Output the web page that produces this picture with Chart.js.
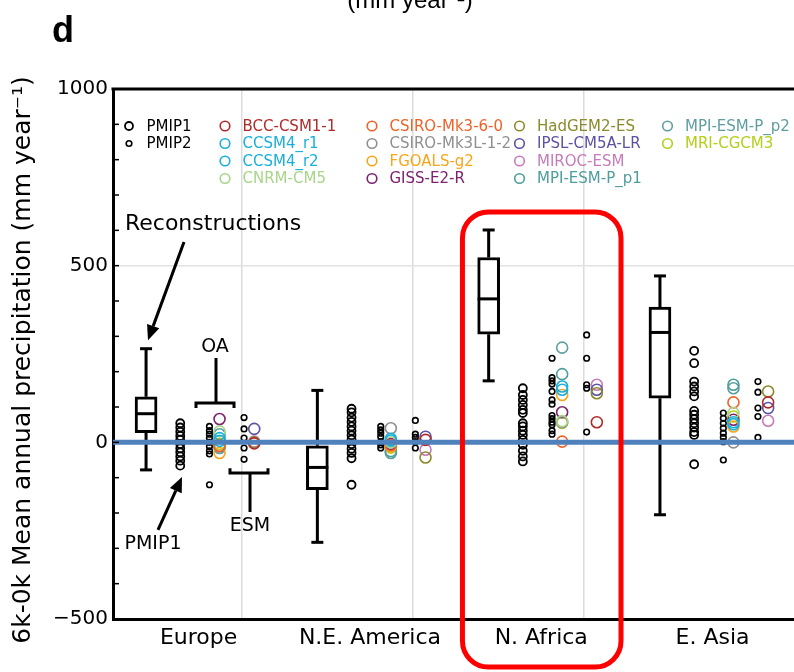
<!DOCTYPE html>
<html>
<head>
<meta charset="utf-8">
<script src="https://cdn.jsdelivr.net/npm/chart.js@4.4.1/dist/chart.umd.min.js"></script>
<style>
  html, body { margin: 0; padding: 0; background: #fff; overflow: hidden; }
  canvas { display: block; }
</style>
</head>
<body>
<canvas id="chart" width="794" height="672"></canvas>
<script>
const regions = ['Europe', 'N.E. America', 'N. Africa', 'E. Asia'];
const yLabelTicks = [-500, 0, 500, 1000];

// reconstructions (box plot): whisker min, q1, median, q3, whisker max
const reconMin = [-78, -283, 174, -205];
const reconQ1  = [27, -134, 306, 125];
const reconMed = [81, -71, 406, 311];
const reconQ3  = [129, -10, 523, 383];
const reconMax = [265, 147, 601, 471];

// PMIP1 models, one list per region
const pmip1 = [
  [54, 42, 30, 18, 7, -5, -17, -28, -40, -52, -66],
  [95, 85, 70, 58, 45, 33, 20, 8, -5, -18, -30, -45, -120],
  [153, 134, 120, 106, 92, 83, 54, 45, 33, 21, 7, -7, -24, -40, -54],
  [259, 224, 172, 158, 144, 130, 89, 78, 66, 54, 42, 29, 21, -62]
];
// PMIP2 ocean-atmosphere models
const pmip2OA = [
  [45, 33, 23, 12, 0, -12, -24, -33, -120],
  [45, 35, 26, 16, 2, -7, -16],
  [238, 183, 174, 165, 144, 120, 108, 76, 67, 57, 50, 33, 23],
  [83, 68, 54, 40, 26, 14, 2, -50]
];
// PMIP2 earth system models
const pmip2ESM = [
  [70, 38, 12, -16, -48],
  [62, 23, 14, 2, -16],
  [304, 238, 163, 153, 29],
  [172, 142, 97, 73, 14]
];

// PMIP3 / CMIP5 models
const modelNames = ['BCC-CSM1-1', 'CCSM4_r1', 'CCSM4_r2', 'CNRM-CM5',
  'CSIRO-Mk3-6-0', 'CSIRO-Mk3L-1-2', 'FGOALS-g2', 'GISS-E2-R',
  'HadGEM2-ES', 'IPSL-CM5A-LR', 'MIROC-ESM', 'MPI-ESM-P_p1',
  'MPI-ESM-P_p2', 'MRI-CGCM3'];
const modelColors = ['#b02a2a', '#1aafd8', '#1aafd8', '#a8d58a',
  '#f06127', '#8f8f8f', '#f9a51b', '#7d2170',
  '#8c8a2c', '#5b52a3', '#c67bbb', '#4d9e9c',
  '#5f9ea0', '#b4cf1a'];
const modelType = ['ESM', 'OA', 'OA', 'OA', 'OA', 'OA', 'OA', 'OA',
  'ESM', 'ESM', 'ESM', 'OA', 'OA', 'OA'];
// values per model: Europe, N.E. America, N. Africa, E. Asia
const modelValues = [
  [-3, 7, 57, 113],
  [12, 10, 158, 57],
  [4, 5, 149, 51],
  [31, 0, 60, 83],
  [-10, -8, 2, 113],
  [-12, 40, 57, 0],
  [-30, -12, 134, 45],
  [66, -5, 85, 64],
  [0, -43, 139, 144],
  [38, 16, 149, 97],
  [2, -21, 163, 61],
  [23, -25, 193, 163],
  [-16, -30, 268, 153],
  [-5, -15, 55, 73]
];

// column offsets inside a region (region width = 1)
const BOX_OFF = -0.307, PMIP1_OFF = -0.1075, PMIP2OA_OFF = 0.063,
      OA_OFF = 0.122, PMIP2ESM_OFF = 0.265, ESM_OFF = 0.3245;
const X_MIN = -0.5, X_MAX = 3.4755;

function spread(groups, off) {
  const out = [];
  groups.forEach((vals, i) => vals.forEach(v => out.push({x: i + off, y: v})));
  return out;
}

const whiskers = [];
regions.forEach((r, i) => {
  const x = i + BOX_OFF;
  whiskers.push({x, y: reconMax[i]}, {x, y: reconQ3[i]}, {x, y: null},
                {x, y: reconQ1[i]}, {x, y: reconMin[i]}, {x, y: null});
});

const clear = 'rgba(0,0,0,0)';
const datasets = [
  {
    label: 'zero', type: 'scatter', showLine: true, order: -10, clip: 0,
    data: [{x: X_MIN, y: 0}, {x: X_MAX, y: 0}],
    borderColor: '#4f81bd', borderWidth: 5, pointRadius: 0
  },
  {
    label: 'PMIP1', type: 'scatter', data: spread(pmip1, PMIP1_OFF),
    borderColor: '#000', backgroundColor: clear, borderWidth: 1.8, pointRadius: 4
  },
  {
    label: 'PMIP2', type: 'scatter', data: spread(pmip2OA, PMIP2OA_OFF),
    borderColor: '#000', backgroundColor: clear, borderWidth: 1.6, pointRadius: 2.8
  },
  {
    label: 'PMIP2 ESM', type: 'scatter', data: spread(pmip2ESM, PMIP2ESM_OFF),
    borderColor: '#000', backgroundColor: clear, borderWidth: 1.6, pointRadius: 2.8
  }
];
modelNames.forEach((name, m) => {
  const off = modelType[m] === 'OA' ? OA_OFF : ESM_OFF;
  datasets.push({
    label: name, type: 'scatter',
    data: modelValues[m].map((v, i) => ({x: i + off, y: v})),
    borderColor: modelColors[m], backgroundColor: clear, borderWidth: 1.6, pointRadius: 5.5
  });
});
datasets.push(
  {
    label: 'median', type: 'scatter',
    data: regions.map((r, i) => ({x: i + BOX_OFF, y: reconMed[i]})),
    pointStyle: 'line', pointRadius: 11, borderWidth: 3, borderColor: '#000'
  },
  {
    label: 'caps', type: 'scatter',
    data: regions.map((r, i) => ({x: i + BOX_OFF, y: reconMax[i]}))
      .concat(regions.map((r, i) => ({x: i + BOX_OFF, y: reconMin[i]}))),
    pointStyle: 'line', pointRadius: 6, borderWidth: 3, borderColor: '#000'
  },
  {
    label: 'box', type: 'bar',
    data: regions.map((r, i) => ({x: i + BOX_OFF, y: [reconQ1[i], reconQ3[i]]})),
    barThickness: 22, backgroundColor: '#fff', borderColor: '#000',
    borderWidth: 3, borderSkipped: false
  },
  {
    label: 'whiskers', type: 'scatter', showLine: true, spanGaps: false,
    data: whiskers, borderColor: '#000', borderWidth: 3, pointRadius: 0
  }
);

const legendRows = [126, 143.5, 161, 178.5];
const legendCols = [129, 225, 372, 519.5, 667.5];

const framePlugin = {
  id: 'frame',
  afterDatasetsDraw(chart) {
    const {ctx, chartArea: a, scales: {y}} = chart;
    ctx.save();
    ctx.strokeStyle = '#000';
    ctx.lineWidth = 1.5;
    for (let v = -500; v <= 1000; v += 100) {
      const py = y.getPixelForValue(v);
      ctx.beginPath(); ctx.moveTo(a.left, py); ctx.lineTo(a.left + 6, py); ctx.stroke();
    }
    ctx.lineWidth = 3;
    ctx.beginPath(); ctx.moveTo(a.left - 1.5, a.top); ctx.lineTo(a.right, a.top); ctx.stroke();
    ctx.restore();
  }
};

const legendPlugin = {
  id: 'gridLegend',
  afterDraw(chart) {
    const ctx = chart.ctx;
    const items = ['PMIP1', 'PMIP2'].map((l, r) => ({label: l, col: 0, row: r}))
      .concat(modelNames.map((l, m) => ({label: l, col: 1 + Math.floor(m / 4), row: m % 4})));
    ctx.save();
    ctx.font = '15px "DejaVu Sans"';
    ctx.textBaseline = 'middle';
    items.forEach(it => {
      const ds = chart.data.datasets.find(d => d.label === it.label);
      const cx = legendCols[it.col], cy = legendRows[it.row];
      ctx.strokeStyle = ds.borderColor;
      ctx.lineWidth = ds.borderWidth;
      ctx.beginPath();
      ctx.arc(cx, cy, Math.min(ds.pointRadius, 4.8), 0, Math.PI * 2);
      ctx.stroke();
      ctx.fillStyle = ds.borderColor;
      ctx.fillText(it.label, cx + 17.5, cy + 1);
    });
    ctx.restore();
  }
};

function arrow(ctx, x1, y1, x2, y2) {
  const ang = Math.atan2(y2 - y1, x2 - x1), L = 15, W = 6.5;
  const bx = x2 - L * Math.cos(ang), by = y2 - L * Math.sin(ang);
  ctx.beginPath(); ctx.moveTo(x1, y1); ctx.lineTo(bx, by); ctx.stroke();
  ctx.beginPath();
  ctx.moveTo(x2, y2);
  ctx.lineTo(bx + W * Math.sin(ang), by - W * Math.cos(ang));
  ctx.lineTo(bx - W * Math.sin(ang), by + W * Math.cos(ang));
  ctx.closePath(); ctx.fill();
}

const notesPlugin = {
  id: 'notes',
  afterDraw(chart) {
    const {ctx, chartArea: a, scales: {x, y}} = chart;
    const X = v => x.getPixelForValue(v), Y = v => y.getPixelForValue(v);
    ctx.save();
    ctx.fillStyle = '#000';
    ctx.strokeStyle = '#000';
    ctx.lineWidth = 3;

    ctx.font = 'bold 36px "Liberation Sans"';
    ctx.textAlign = 'left';
    ctx.textBaseline = 'alphabetic';
    ctx.fillText('d', 52, 42);
    ctx.font = '24px "Liberation Sans Narrow", "Liberation Sans"';
    ctx.textAlign = 'center';
    ctx.fillText('(mm year\u207B\u00B9)', 410, 8);

    // y axis title
    ctx.save();
    ctx.translate(23, (a.top + a.bottom) / 2 + 6);
    ctx.rotate(-Math.PI / 2);
    ctx.textBaseline = 'middle';
    ctx.font = '25px "DejaVu Sans"';
    ctx.fillText('6k-0k Mean annual precipitation (mm year\u207B\u00B9)', 0, 0);
    ctx.restore();

    ctx.textBaseline = 'middle';
    ctx.font = '22px "DejaVu Sans"';
    ctx.fillText('Reconstructions', X(0.084), Y(618));
    arrow(ctx, X(-0.0855), Y(567), X(-0.2957), Y(289));

    ctx.font = '19px "DejaVu Sans"';
    ctx.fillText('OA', X(0.0955), Y(270));
    ctx.beginPath();
    ctx.moveTo(X(0.1013), Y(239)); ctx.lineTo(X(0.1013), Y(111));
    ctx.moveTo(X(-0.0155), Y(97)); ctx.lineTo(X(-0.0155), Y(111));
    ctx.lineTo(X(0.2064), Y(111)); ctx.lineTo(X(0.2064), Y(97));
    ctx.stroke();

    ctx.fillText('ESM', X(0.2998), Y(-237));
    ctx.beginPath();
    ctx.moveTo(X(0.2998), Y(-197)); ctx.lineTo(X(0.2998), Y(-87));
    ctx.moveTo(X(0.183), Y(-73)); ctx.lineTo(X(0.183), Y(-87));
    ctx.lineTo(X(0.4048), Y(-87)); ctx.lineTo(X(0.4048), Y(-73));
    ctx.stroke();

    ctx.fillText('PMIP1', X(-0.2665), Y(-288));
    arrow(ctx, X(-0.2373), Y(-248), X(-0.0972), Y(-98));

    // highlight box around N. Africa
    const l = X(1.540), r = X(2.4656), t = Y(652), b = Y(-636), rad = 26;
    ctx.strokeStyle = '#ff0000';
    ctx.lineWidth = 5;
    ctx.beginPath();
    ctx.moveTo(l + rad, t);
    ctx.arcTo(r, t, r, b, rad);
    ctx.arcTo(r, b, l, b, rad);
    ctx.arcTo(l, b, l, t, rad);
    ctx.arcTo(l, t, r, t, rad);
    ctx.closePath();
    ctx.stroke();
    ctx.restore();
  }
};

new Chart(document.getElementById('chart'), {
  type: 'scatter',
  data: {datasets},
  options: {
    responsive: false,
    animation: false,
    events: [],
    layout: {autoPadding: false, padding: {top: 89, right: 0, left: 0, bottom: 0}},
    plugins: {legend: {display: false}, tooltip: {enabled: false}},
    scales: {
      x: {
        type: 'linear', min: X_MIN, max: X_MAX, offset: false,
        afterBuildTicks: s => { s.ticks = [0, 0.5, 1, 1.5, 2, 2.5, 3].map(v => ({value: v})); },
        afterFit: s => { s.height = 53; s.paddingLeft = 0; s.paddingRight = 0; },
        grid: {
          color: c => (c.tick && c.tick.value % 1 !== 0) ? '#dcdcdc' : clear,
          lineWidth: 1.5, drawTicks: false
        },
        border: {color: '#000', width: 3},
        ticks: {
          autoSkip: false, maxRotation: 0, padding: 6, color: '#000',
          font: {family: 'DejaVu Sans', size: 22},
          callback: v => Number.isInteger(v) ? regions[v] : ''
        }
      },
      y: {
        min: -500, max: 1000,
        afterBuildTicks: s => { s.ticks = yLabelTicks.map(v => ({value: v})); },
        afterFit: s => { s.width = 113; s.paddingTop = 0; s.paddingBottom = 0; },
        grid: {
          color: c => (c.tick && c.tick.value === 500) ? '#e2e2e2' : clear,
          lineWidth: 1.5, drawTicks: false
        },
        border: {color: '#000', width: 3},
        ticks: {
          padding: 5, color: '#000',
          font: {family: 'DejaVu Sans', size: 20},
          callback: v => v < 0 ? '\u2212' + Math.abs(v) : String(v)
        }
      }
    }
  },
  plugins: [framePlugin, legendPlugin, notesPlugin]
});
</script>
</body>
</html>
